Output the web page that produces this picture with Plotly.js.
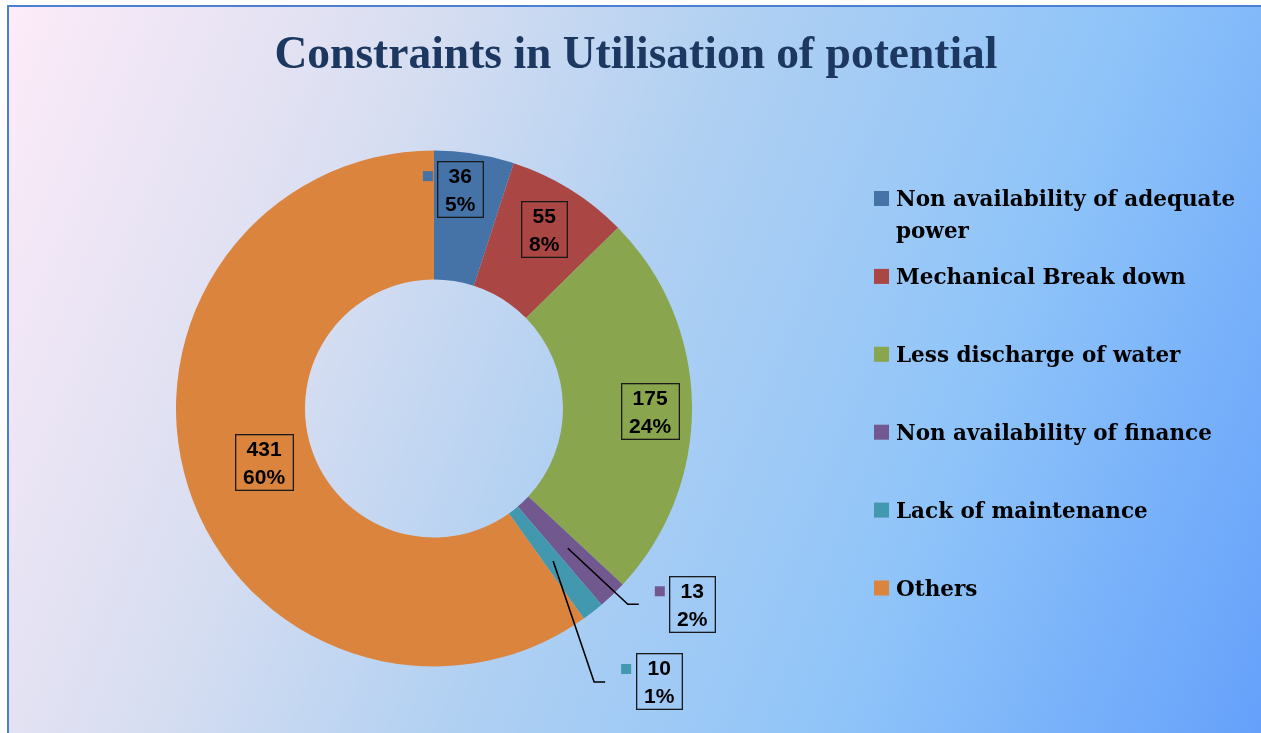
<!DOCTYPE html>
<html><head><meta charset="utf-8">
<script src="https://cdn.plot.ly/plotly-3.0.1.min.js"></script>
<style>
html,body{margin:0;padding:0;background:#ffffff;overflow:hidden;width:1261px;height:733px;}
#bg{position:fixed;left:7px;top:5px;right:-40px;bottom:-40px;border-top:2px solid #4a7fd1;border-left:2px solid #4a7fd1;
 background:linear-gradient(112deg,#fdebf8 0%,#d8def1 26%,#b0d0f2 46%,#8fc4f9 70%,#5f9cfb 100%);}
#chart{position:absolute;left:0;top:0;width:1261px;height:733px;}
</style></head><body>
<div id="bg"></div><div id="chart"></div>
<script>
// ---- data ----
const categories = ["Non availability of adequate power","Mechanical Break down","Less discharge of water","Non availability of finance","Lack of maintenance","Others"];
const counts = [36, 55, 175, 13, 10, 431];
const legendLabels = ["Non availability of adequate<br>power","Mechanical Break down","Less discharge of water","Non availability of finance","Lack of maintenance","Others"];
const sliceColors = ["#4572A7","#AA4643","#89A54E","#71588F","#4198AF","#DB843D"];
const chartTitle = "Constraints in Utilisation of potential";

// ---- layout geometry (pixels) ----
const W = 1261, H = 733;
const CX = 434, CY = 408.5, R = 258;
const X = p => p / W, Y = p => 1 - p / H;

// label placement style: inside labels at a radius (with angle nudge), callouts with box offset from the ring middle
const labelPlacement = [
  {r: 221, da: -2, swatch: true},
  {r: 210, da: 0},
  {r: 217, da: 1.5},
  {callout: [125, 56], swatch: true},
  {callout: [106, 121], swatch: true},
  {r: 178, da: 0}
];

const total = counts.reduce((a, b) => a + b, 0);
let cum = 0;
const annotations = [], shapes = [];
const lblFont = {family: "Liberation Sans, Arial, sans-serif", size: 21, color: "#000"};
counts.forEach((v, i) => {
  const midDeg = (cum + v / 2) / total * 360;
  cum += v;
  const pct = Math.round(v / total * 100) + "%";
  const lines = [String(v), pct];
  const maxLen = Math.max(...lines.map(s => s.length));
  const boxW = 16 + 12 * maxLen;
  const pl = labelPlacement[i];
  let bx, by;
  if (pl.callout) {
    const a = midDeg * Math.PI / 180, rm = R * 0.75;
    const hx = CX + rm * Math.sin(a), hy = CY - rm * Math.cos(a);
    bx = hx + pl.callout[0]; by = hy + pl.callout[1];
    const boxLeft = bx - (boxW + 8) / 2;
    shapes.push({type: "path", xref: "paper", yref: "paper",
      path: `M ${X(hx)} ${Y(hy)} L ${X(boxLeft - 41)} ${Y(by)} L ${X(boxLeft - 30)} ${Y(by)}`,
      line: {color: "#000", width: 1.6}});
  } else {
    const a = (midDeg + pl.da) * Math.PI / 180;
    bx = CX + pl.r * Math.sin(a); by = CY - pl.r * Math.cos(a);
  }
  annotations.push({xref: "paper", yref: "paper", x: X(bx), y: Y(by), xanchor: "center", yanchor: "middle",
    text: lines.map(s => "<b>" + s + "</b>").join("<br>"), showarrow: false, font: lblFont,
    bordercolor: "#1a1a1a", borderwidth: 1.3, borderpad: 2, width: boxW, align: "center"});
  if (pl.swatch) {
    const sx = bx - 33, sy = by - 13;
    shapes.push({type: "rect", xref: "paper", yref: "paper", x0: X(sx - 5), x1: X(sx + 5), y0: Y(sy + 5), y1: Y(sy - 5),
      fillcolor: sliceColors[i], line: {width: 0}});
  }
});

// ---- manual legend ----
const legFont = {family: "DejaVu Serif, serif", size: 21.5, color: "#000"};
legendLabels.forEach((t, i) => {
  const yc = 198.5 + 77.9 * i;
  shapes.push({type: "rect", xref: "paper", yref: "paper", x0: X(874), x1: X(889), y0: Y(yc + 7.5), y1: Y(yc - 7.5),
    fillcolor: sliceColors[i], line: {width: 0}});
  t.split("<br>").forEach((s, k) => {
    annotations.push({xref: "paper", yref: "paper", x: X(894), y: Y(yc + 0.5 + 31.5 * k),
      xanchor: "left", yanchor: "middle", align: "left",
      text: "<b>" + s + "</b>", showarrow: false, font: legFont});
  });
});

const data = [{
  type: "pie", labels: categories, values: counts, hole: 0.5, sort: false, direction: "clockwise", rotation: 0,
  marker: {colors: sliceColors, line: {width: 0}}, textinfo: "none", hoverinfo: "skip", showlegend: false,
  domain: {x: [X(CX - R), X(CX + R)], y: [Y(CY + R), Y(CY - R)]}
}];

const layout = {
  width: W, height: H, margin: {l: 0, r: 0, t: 0, b: 0},
  paper_bgcolor: "rgba(0,0,0,0)", plot_bgcolor: "rgba(0,0,0,0)",
  title: {text: "<b>" + chartTitle + "</b>", x: X(636), xanchor: "center", xref: "paper", y: Y(52), yref: "paper", yanchor: "middle",
    font: {family: "Liberation Serif, serif", size: 45.5, color: "#1c3861"}},
  showlegend: false, annotations: annotations, shapes: shapes
};
Plotly.newPlot("chart", data, layout, {displayModeBar: false, staticPlot: true});
</script>
</body></html>
